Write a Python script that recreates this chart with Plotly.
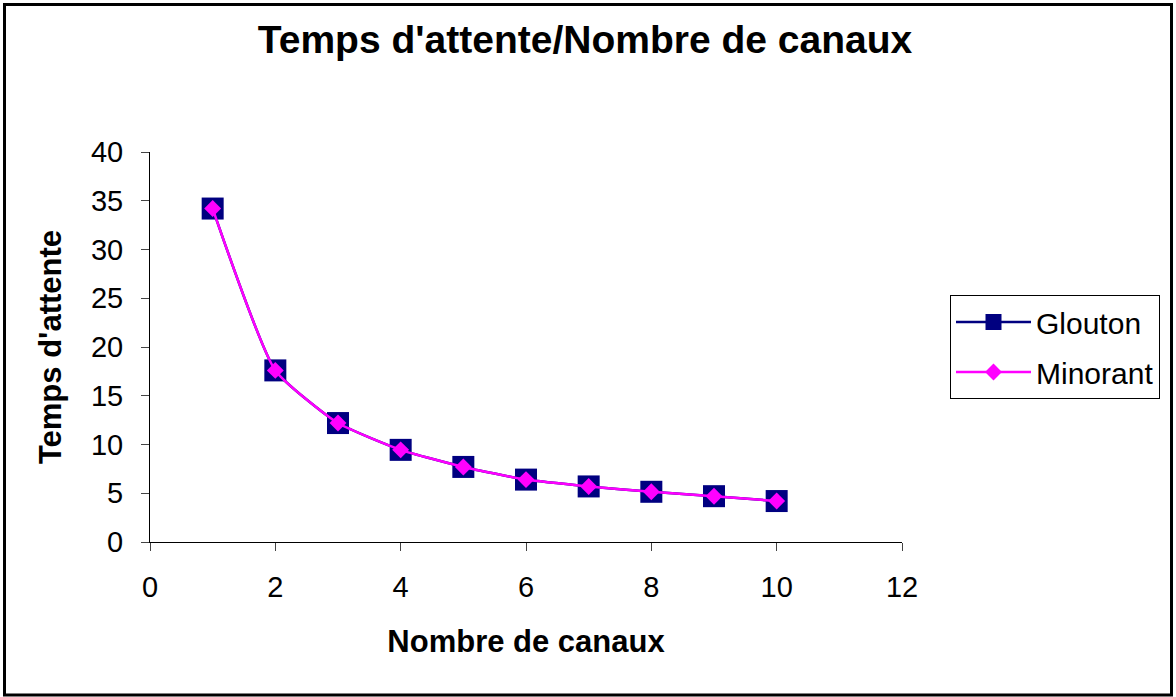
import plotly.graph_objects as go

# Data
canaux = [1, 2, 3, 4, 5, 6, 7, 8, 9, 10]
glouton = [34.2, 17.6, 12.2, 9.45, 7.7, 6.4, 5.7, 5.15, 4.7, 4.2]
minorant = [34.2, 17.6, 12.2, 9.45, 7.7, 6.4, 5.7, 5.15, 4.7, 4.2]
x_ticks = [0, 2, 4, 6, 8, 10, 12]
y_ticks = [0, 5, 10, 15, 20, 25, 30, 35, 40]

FONT = "Liberation Sans, Arial, sans-serif"
W, H = 1176, 697
L, R, T, B = 150, 274, 152, 155
pw, ph = W - L - R, H - T - B

fig = go.Figure()
fig.add_trace(go.Scatter(
    x=canaux, y=glouton, name="Glouton", mode="lines+markers", legendgroup="g1",
    line=dict(color="#000080", width=2.5, shape="spline", smoothing=0.5),
    marker=dict(symbol="square", size=22, color="#000080"),
))
fig.add_trace(go.Scatter(
    x=canaux, y=minorant, name="Minorant", mode="lines+markers", legendgroup="g2",
    line=dict(color="#FF00FF", width=2.5, shape="spline", smoothing=0.5),
    marker=dict(symbol="diamond", size=13, color="#FF00FF"),
))

def px_x(p):
    return (p - L) / pw

def px_y(p):
    return (H - B - p) / ph

fig.add_shape(type="rect", xref="paper", yref="paper",
              x0=px_x(4.5), x1=px_x(1171.5), y0=px_y(695), y1=px_y(4.5),
              line=dict(color="black", width=3), layer="above")

fig.update_layout(
    width=W, height=H,
    margin=dict(l=L, r=R, t=T, b=B, autoexpand=False),
    paper_bgcolor="white", plot_bgcolor="white",
    font=dict(family=FONT, color="black", size=29),
    title=dict(text="<b>Temps d'attente/Nombre de canaux</b>",
               font=dict(size=39, family=FONT, color="black"),
               x=px_x(585), xref="paper", xanchor="center",
               y=1 - 39 / H, yref="container", yanchor="middle"),
    showlegend=True,
    legend=dict(x=px_x(950), y=px_y(295), xanchor="left", yanchor="top",
                bordercolor="black", borderwidth=1, bgcolor="white",
                font=dict(size=30, family=FONT, color="black"),
                itemwidth=75, tracegroupgap=8),
    xaxis=dict(range=[0, 12], tickvals=x_ticks, ticktext=[str(v) for v in x_ticks],
               showgrid=False, zeroline=False, showline=True, linecolor="black", linewidth=1,
               ticks="outside", ticklen=8, tickcolor="#444", tickwidth=1,
               ticklabelstandoff=11,
               title=dict(text="<b>Nombre de canaux</b>", font=dict(size=31, family=FONT),
                          standoff=28)),
    yaxis=dict(range=[0, 40], tickvals=y_ticks, ticktext=[str(v) for v in y_ticks],
               showgrid=False, zeroline=False, showline=True, linecolor="black", linewidth=1,
               ticks="outside", ticklen=8, tickcolor="#444", tickwidth=1,
               ticklabelstandoff=12,
               title=dict(text="<b>Temps d'attente</b>", font=dict(size=31, family=FONT),
                          standoff=20)),
)

fig.write_html("out.html", config={"displayModeBar": False},
               post_script="document.body.style.margin='0';document.body.style.padding='0';")
